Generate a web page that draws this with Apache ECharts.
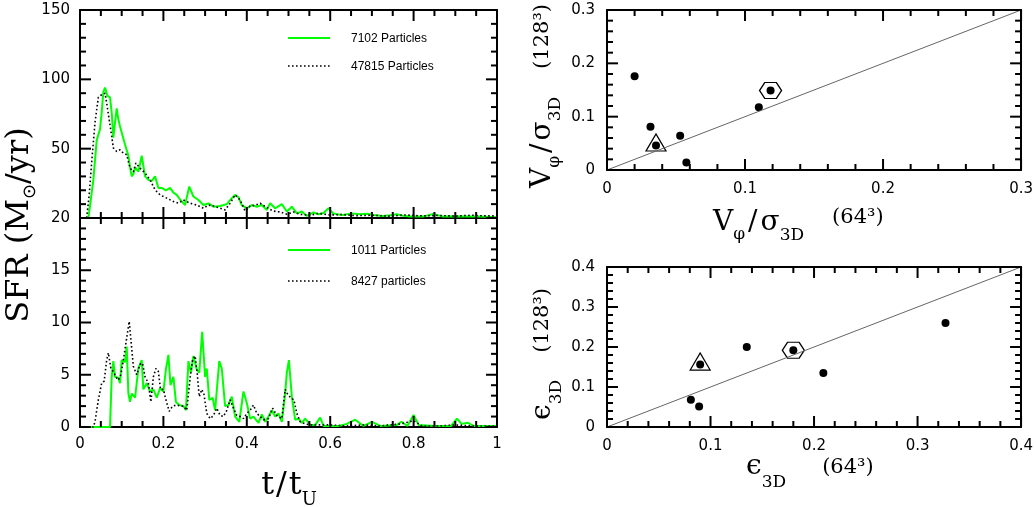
<!DOCTYPE html>
<html>
<head>
<meta charset="utf-8">
<script src="https://cdn.jsdelivr.net/npm/echarts@6.0.0/dist/echarts.min.js"></script>
<style>
  html, body { margin: 0; padding: 0; background: #fff; }
  #chart { width: 1036px; height: 507px; }
</style>
</head>
<body>
<div id="chart"></div>
<script>
// ---- data ----
// top left: SFR, 7102 vs 47815 particles
var t7102 = [0.02, 0.026, 0.032, 0.04, 0.048, 0.052, 0.056, 0.06, 0.066, 0.072, 0.076, 0.08, 0.084, 0.088, 0.092, 0.096, 0.1, 0.108, 0.112, 0.116, 0.12, 0.124, 0.128, 0.132, 0.14, 0.148, 0.156, 0.164, 0.172, 0.18, 0.188, 0.196, 0.206, 0.216, 0.224, 0.232, 0.24, 0.252, 0.262, 0.272, 0.284, 0.296, 0.308, 0.32, 0.336, 0.352, 0.364, 0.372, 0.38, 0.388, 0.4, 0.412, 0.424, 0.436, 0.448, 0.456, 0.468, 0.484, 0.496, 0.508, 0.52, 0.532, 0.544, 0.56, 0.572, 0.584, 0.596, 0.607, 0.62, 0.631, 0.651, 0.671, 0.688, 0.703, 0.727, 0.745, 0.759, 0.775, 0.791, 0.823, 0.847, 0.871, 0.9, 0.927, 0.96, 1.0];
var sfr7102 = [20, 28, 36.5, 56, 64, 76, 91, 94, 88, 87, 76, 58, 69, 79, 71, 66, 66, 53, 52, 47, 42, 38, 39, 42, 40, 47, 38, 36.5, 36, 38, 33, 33, 32, 33, 31, 30, 28, 25.6, 33.6, 29.3, 27.8, 25.6, 26.3, 24.9, 25.2, 26, 28.6, 30, 29, 25.6, 24.2, 25.6, 24.9, 25.6, 23.5, 26.4, 24.2, 26, 22.8, 24.9, 22, 22.8, 20.9, 22.4, 21.6, 22.2, 24.2, 22, 21.5, 21.3, 22, 21.6, 21.8, 21.3, 20.9, 21.2, 21.6, 21, 20.6, 20.6, 21.7, 20.6, 20.8, 20.6, 20.7, 20.3];
var t47815 = [0.016, 0.022, 0.028, 0.036, 0.044, 0.052, 0.06, 0.064, 0.07, 0.076, 0.08, 0.088, 0.096, 0.104, 0.112, 0.12, 0.128, 0.134, 0.144, 0.156, 0.168, 0.18, 0.192, 0.208, 0.224, 0.236, 0.248, 0.264, 0.28, 0.296, 0.308, 0.32, 0.336, 0.348, 0.36, 0.372, 0.384, 0.396, 0.408, 0.42, 0.432, 0.448, 0.464, 0.48, 0.496, 0.512, 0.528, 0.552, 0.572, 0.6, 0.63, 0.66, 0.7, 0.74, 0.78, 0.82, 0.86, 0.9, 0.94, 0.97, 1.0];
var sfr47815 = [20, 30, 44, 69, 87, 89, 90, 83, 71, 59, 50.5, 48.8, 49.5, 48, 47.4, 41.6, 40, 43.8, 41.6, 39.4, 36.5, 32.2, 30, 28.6, 27.1, 26.4, 27.8, 26.4, 25.6, 24.2, 25.6, 25.2, 24.2, 23.5, 26.4, 30, 27.8, 23, 25.2, 25.5, 26.4, 24.5, 23, 22.6, 21.6, 22.6, 21.6, 21.2, 22, 21.3, 21.5, 21, 21.2, 20.8, 21.3, 20.9, 21.1, 20.8, 21.2, 20.9, 20.9];

// bottom left: SFR, 1011 vs 8427 particles
var t1011 = [0, 0.072, 0.076, 0.08, 0.084, 0.092, 0.096, 0.1, 0.108, 0.112, 0.116, 0.12, 0.124, 0.132, 0.14, 0.148, 0.152, 0.16, 0.168, 0.176, 0.184, 0.192, 0.2, 0.206, 0.212, 0.217, 0.224, 0.23, 0.238, 0.248, 0.254, 0.26, 0.266, 0.272, 0.28, 0.286, 0.293, 0.3, 0.304, 0.31, 0.318, 0.324, 0.334, 0.34, 0.348, 0.356, 0.364, 0.372, 0.382, 0.392, 0.4, 0.408, 0.416, 0.428, 0.436, 0.444, 0.452, 0.46, 0.468, 0.476, 0.484, 0.492, 0.496, 0.501, 0.508, 0.516, 0.524, 0.532, 0.54, 0.552, 0.564, 0.576, 0.584, 0.62, 0.64, 0.66, 0.68, 0.7, 0.72, 0.76, 0.771, 0.785, 0.8, 0.812, 0.85, 0.89, 0.904, 0.915, 0.93, 0.944, 0.97, 1.0];
var sfr1011 = [0, 0, 4.8, 6.3, 4.8, 4.7, 4.2, 6.4, 6.2, 7.7, 3.2, 2.4, 3.2, 2.8, 5.6, 6.4, 3.6, 4.2, 3.4, 3.6, 2.8, 3.7, 3.4, 5.5, 6.9, 4.0, 4.8, 2.4, 2.1, 2.0, 1.6, 6.3, 5.2, 6.8, 5.5, 5.2, 9.1, 4.8, 5.6, 2.6, 2.8, 1.6, 6.3, 5.6, 2.0, 2.1, 2.9, 1.0, 0.5, 3.4, 2.3, 0.8, 1.0, 0.4, 1.2, 0.5, 1.0, 1.6, 1.0, 1.3, 0.5, 3.2, 5.2, 6.4, 2.9, 0.7, 0.8, 0.4, 0.8, 0.2, 0.2, 0.9, 0.1, 0.1, 0.3, 0.7, 0.1, 0.5, 0.1, 0.2, 0.5, 0.1, 1.15, 0.2, 0.1, 0.1, 0.8, 0.3, 0.4, 0.1, 0.1, 0.1];
var t8427 = [0, 0.032, 0.036, 0.044, 0.052, 0.058, 0.064, 0.068, 0.074, 0.08, 0.086, 0.092, 0.098, 0.104, 0.11, 0.118, 0.122, 0.128, 0.136, 0.144, 0.15, 0.156, 0.164, 0.17, 0.176, 0.182, 0.188, 0.193, 0.2, 0.206, 0.214, 0.222, 0.232, 0.24, 0.248, 0.256, 0.264, 0.27, 0.276, 0.281, 0.286, 0.292, 0.297, 0.304, 0.312, 0.32, 0.328, 0.336, 0.344, 0.352, 0.36, 0.368, 0.376, 0.384, 0.392, 0.4, 0.408, 0.416, 0.424, 0.432, 0.44, 0.452, 0.462, 0.472, 0.484, 0.492, 0.497, 0.505, 0.513, 0.52, 0.528, 0.54, 0.552, 0.576, 0.6, 0.64, 0.68, 0.72, 0.77, 0.8, 0.82, 0.86, 0.9, 0.94, 1.0];
var sfr8427 = [0, 0, 0.5, 2.6, 4.2, 4.4, 6.4, 7.1, 5.6, 5.3, 4.8, 4.5, 5.0, 6.4, 8.0, 10.1, 8.4, 5.8, 5.0, 6.0, 6.1, 4.8, 4.2, 2.4, 4.8, 5.6, 5.3, 3.6, 3.6, 2.6, 1.5, 2.0, 2.1, 2.0, 2.0, 1.6, 4.7, 6.4, 6.8, 5.2, 2.9, 3.6, 3.2, 1.3, 0.8, 1.1, 1.8, 1.1, 1.0, 1.6, 2.6, 1.8, 1.1, 1.0, 0.8, 1.3, 1.6, 2.1, 1.3, 1.0, 0.7, 0.8, 1.8, 1.1, 0.8, 3.6, 3.2, 2.8, 2.6, 1.3, 0.5, 0.3, 0.2, 0.2, 0.2, 0.1, 0.2, 0.1, 0.3, 0.6, 0.1, 0.1, 0.2, 0.1, 0.1];

// right: 64^3 vs 128^3 runs
var vphi64  = [0.020, 0.0315, 0.0355, 0.053, 0.0575, 0.110, 0.1185];
var vphi128 = [0.176, 0.081, 0.046, 0.064, 0.014, 0.1175, 0.149];
var eps64   = [0.081, 0.089, 0.090, 0.135, 0.180, 0.209, 0.327];
var eps128  = [0.068, 0.051, 0.156, 0.200, 0.192, 0.135, 0.260];
var vphiTri = 2, vphiHex = 6;
var epsTri = 2, epsHex = 4;

// top-left axis labels sit at equal steps
var sfrTicks = [20, 50, 100, 150];
var tMax = 1, sfrLowMax = 20, vphiMax = 0.3, epsMax = 0.4;

var SANS = '"DejaVu Sans", sans-serif';
var SERIF = '"DejaVu Serif", serif';
var LEG = '"Liberation Sans", Arial, sans-serif';

function sfrToAxis(v) {
    for (var i = 0; i < sfrTicks.length - 1; i++) {
        if (v <= sfrTicks[i + 1]) {
            return i + (v - sfrTicks[i]) / (sfrTicks[i + 1] - sfrTicks[i]);
        }
    }
    return sfrTicks.length - 1;
}

function zip(xs, ys, f) {
    return xs.map(function (x, i) { return [x, f ? f(ys[i]) : ys[i]]; });
}

function axis(grid, pos, cfg, labels) {
    var label = { show: labels };
    if (labels) {
        label.color = '#000';
        label.fontFamily = SANS;
        label.fontSize = 15;
        label.margin = cfg.margin || 10;
        if (cfg.formatter) label.formatter = cfg.formatter;
        if (cfg.hideMax) label.showMaxLabel = false;
    }
    return {
        type: 'value', gridIndex: grid, position: pos,
        min: cfg.min, max: cfg.max, interval: cfg.interval,
        axisLine: { show: true, onZero: false, lineStyle: { color: '#000', width: 2 } },
        axisTick: { show: false },
        splitLine: { show: false },
        axisLabel: label
    };
}

var tCfg = { min: 0, max: tMax, interval: 0.2, minor: 0.05 };
var topCfg = {
    min: 0, max: sfrTicks.length - 1, interval: 1, minor: 0.2,
    formatter: function (v) { return String(sfrTicks[Math.round(v)]); }
};
var lowCfg = { min: 0, max: sfrLowMax, interval: 5, minor: 1, hideMax: true };
var vCfg = { min: 0, max: vphiMax, interval: 0.1, minor: 0.02, margin: 12 };
var eCfg = { min: 0, max: epsMax, interval: 0.1, minor: 0.02, margin: 12 };

// tick positions of an axis: every minor step, flagged when it is a major one
function tickList(cfg) {
    var out = [], n = Math.round((cfg.max - cfg.min) / cfg.minor);
    for (var i = 0; i <= n; i++) {
        var v = cfg.min + i * cfg.minor;
        var r = (v - cfg.min) / cfg.interval;
        out.push({ v: v, major: Math.abs(r - Math.round(r)) < 1e-6 });
    }
    return out;
}

// inward ticks on all four sides of one grid, placed through its axes
function frameTicks(axisIndex, xCfg, yCfg) {
    var data = [];
    tickList(xCfg).forEach(function (t) { data.push([t.v, yCfg.min, 0, t.major ? 11 : 6]); });
    tickList(yCfg).forEach(function (t) { data.push([xCfg.min, t.v, 1, t.major ? 11 : 6]); });
    return {
        type: 'custom', xAxisIndex: axisIndex, yAxisIndex: axisIndex, silent: true, z: 5,
        data: data,
        renderItem: function (params, api) {
            var p = api.coord([api.value(0), api.value(1)]);
            var r = params.coordSys, len = api.value(3);
            var s = { stroke: '#000', lineWidth: 2 };
            if (api.value(2) === 0) {
                return { type: 'group', children: [
                    { type: 'line', shape: { x1: p[0], y1: r.y + r.height, x2: p[0], y2: r.y + r.height - len }, style: s },
                    { type: 'line', shape: { x1: p[0], y1: r.y, x2: p[0], y2: r.y + len }, style: s }
                ] };
            }
            return { type: 'group', children: [
                { type: 'line', shape: { x1: r.x, y1: p[1], x2: r.x + len, y2: p[1] }, style: s },
                { type: 'line', shape: { x1: r.x + r.width, y1: p[1], x2: r.x + r.width - len, y2: p[1] }, style: s }
            ] };
        }
    };
}

// titles: runs of text with sub/superscript offsets
var measure = document.createElement('canvas').getContext('2d');
function textRuns(runs, x, y, rotation, centered) {
    var parts = [], pos = 0;
    runs.forEach(function (r) {
        var fam = r.font || SERIF;
        measure.font = r.size + 'px ' + fam;
        pos += r.gap || 0;
        parts.push({
            type: 'text', x: pos, y: (r.dy || 0) - 0.35 * r.size,
            style: { text: r.text, fontSize: r.size, fontFamily: fam, fill: '#000', align: 'left', verticalAlign: 'middle' }
        });
        pos += measure.measureText(r.text).width;
    });
    if (centered) parts.forEach(function (p) { p.x -= pos / 2; });
    return { type: 'group', x: x, y: y, rotation: rotation || 0, children: parts };
}

function legendItem(x, y, label, dotted) {
    return [
        { type: 'line', shape: { x1: x, y1: y, x2: x + 42, y2: y },
          style: dotted ? { stroke: '#000', lineWidth: 1.6, lineDash: [1.6, 2.4] } : { stroke: '#00ff00', lineWidth: 2 } },
        { type: 'text', x: x + 63, y: y + 1,
          style: { text: label, fontSize: 12, fontFamily: LEG, fill: '#000', verticalAlign: 'middle' } }
    ];
}

var graphics = [].concat(
    legendItem(288, 38, '7102 Particles', false),
    legendItem(288, 66, '47815 Particles', true),
    legendItem(288, 250, '1011 Particles', false),
    legendItem(288, 281, '8427 particles', true),
    [
        textRuns([{ text: 'SFR (M', size: 32 }, { text: '⊙', size: 18, dy: 6, font: SANS }, { text: '/yr)', size: 32 }], 31, 225, Math.PI / 2, true),
        textRuns([{ text: 't', size: 32 }, { text: '/', size: 32, gap: 2 }, { text: 't', size: 32, gap: 2 }, { text: 'U', size: 18, dy: 10 }], 289, 497, 0, true),
        textRuns([{ text: 'V', size: 28 }, { text: 'φ', size: 17, dy: 8 }, { text: '/', size: 28, gap: 3 }, { text: 'σ', size: 28, gap: 3 },
                  { text: '3D', size: 17, dy: 9 }, { text: '(64³)', size: 21, dy: -8, gap: 28 }], 713, 233, 0, false),
        textRuns([{ text: 'V', size: 28 }, { text: 'φ', size: 17, dy: 8 }, { text: '/', size: 28, gap: 3 }, { text: 'σ', size: 28, gap: 3 },
                  { text: '3D', size: 17, dy: 9 }, { text: '(128³)', size: 21, dy: -3, gap: 28 }], 553, 188, Math.PI / 2, false),
        textRuns([{ text: 'ϵ', size: 28 }, { text: '3D', size: 17, dy: 12 }, { text: '(64³)', size: 21, dy: -2, gap: 36 }], 746, 477, 0, false),
        textRuns([{ text: 'ϵ', size: 28 }, { text: '3D', size: 17, dy: 10 }, { text: '(128³)', size: 21, dy: -3, gap: 27 }], 553, 420, Math.PI / 2, false)
    ]
);

var hexPath = 'path://M0,8 L5,0 L16,0 L21,8 L16,16 L5,16 Z';
var openMark = { color: 'rgba(0,0,0,0)', borderColor: '#000', borderWidth: 1.2, opacity: 1 };
var dot = { color: '#000', opacity: 1 };

var option = {
    animation: false,
    grid: [
        { left: 80, top: 10, width: 417, height: 208 },
        { left: 80, top: 218, width: 417, height: 209 },
        { left: 607, top: 10, width: 416, height: 160 },
        { left: 607, top: 267, width: 416, height: 160 }
    ],
    xAxis: [
        axis(0, 'bottom', tCfg, false), axis(0, 'top', tCfg, false),
        axis(1, 'bottom', tCfg, true), axis(1, 'top', tCfg, false),
        axis(2, 'bottom', vCfg, true), axis(2, 'top', vCfg, false),
        axis(3, 'bottom', eCfg, true), axis(3, 'top', eCfg, false)
    ],
    yAxis: [
        axis(0, 'left', topCfg, true), axis(0, 'right', topCfg, false),
        axis(1, 'left', lowCfg, true), axis(1, 'right', lowCfg, false),
        axis(2, 'left', vCfg, true), axis(2, 'right', vCfg, false),
        axis(3, 'left', eCfg, true), axis(3, 'right', eCfg, false)
    ],
    series: [
        frameTicks(0, tCfg, topCfg),
        frameTicks(2, tCfg, lowCfg),
        frameTicks(4, vCfg, vCfg),
        frameTicks(6, eCfg, eCfg),

        { type: 'line', xAxisIndex: 0, yAxisIndex: 0, showSymbol: false, symbol: 'none',
          data: zip(t7102, sfr7102, sfrToAxis), lineStyle: { color: '#00ff00', width: 2 } },
        { type: 'line', xAxisIndex: 0, yAxisIndex: 0, showSymbol: false, symbol: 'none',
          data: zip(t47815, sfr47815, sfrToAxis), lineStyle: { color: '#000', width: 1.6, type: [1.6, 2.4] } },
        { type: 'line', xAxisIndex: 2, yAxisIndex: 2, showSymbol: false, symbol: 'none',
          data: zip(t1011, sfr1011), lineStyle: { color: '#00ff00', width: 2 } },
        { type: 'line', xAxisIndex: 2, yAxisIndex: 2, showSymbol: false, symbol: 'none',
          data: zip(t8427, sfr8427), lineStyle: { color: '#000', width: 1.6, type: [1.6, 2.4] } },

        // one-to-one lines
        { type: 'line', xAxisIndex: 4, yAxisIndex: 4, symbol: 'none',
          data: [[0, 0], [vphiMax, vphiMax]], lineStyle: { color: '#666', width: 1 } },
        { type: 'line', xAxisIndex: 6, yAxisIndex: 6, symbol: 'none',
          data: [[0, 0], [epsMax, epsMax]], lineStyle: { color: '#666', width: 1 } },

        { type: 'scatter', xAxisIndex: 4, yAxisIndex: 4, symbolSize: 8,
          data: zip(vphi64, vphi128), itemStyle: dot },
        { type: 'scatter', xAxisIndex: 4, yAxisIndex: 4, symbol: 'triangle', symbolSize: [20, 17], symbolOffset: [0, -3],
          data: [[vphi64[vphiTri], vphi128[vphiTri]]], itemStyle: openMark },
        { type: 'scatter', xAxisIndex: 4, yAxisIndex: 4, symbol: hexPath, symbolSize: [22, 16],
          data: [[vphi64[vphiHex], vphi128[vphiHex]]], itemStyle: openMark },

        { type: 'scatter', xAxisIndex: 6, yAxisIndex: 6, symbolSize: 8,
          data: zip(eps64, eps128), itemStyle: dot },
        { type: 'scatter', xAxisIndex: 6, yAxisIndex: 6, symbol: 'triangle', symbolSize: [20, 17], symbolOffset: [0, -3],
          data: [[eps64[epsTri], eps128[epsTri]]], itemStyle: openMark },
        { type: 'scatter', xAxisIndex: 6, yAxisIndex: 6, symbol: hexPath, symbolSize: [22, 16],
          data: [[eps64[epsHex], eps128[epsHex]]], itemStyle: openMark }
    ],
    graphic: { elements: graphics }
};

var chart = echarts.init(document.getElementById('chart'));
chart.setOption(option);
</script>
</body>
</html>
